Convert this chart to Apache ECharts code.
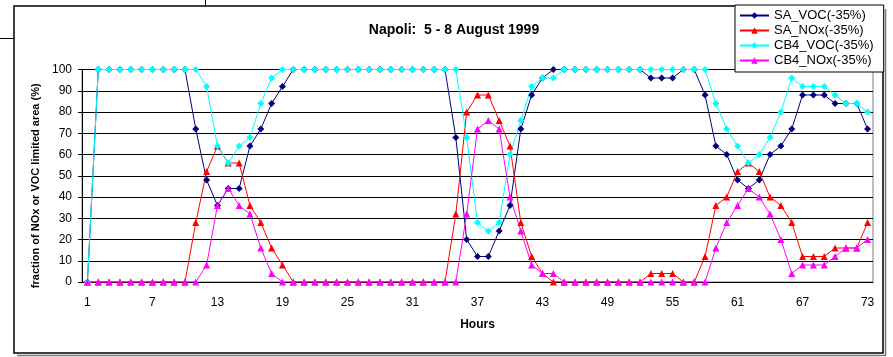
<!DOCTYPE html>
<html>
<head>
<meta charset="utf-8">
<script src="https://cdn.jsdelivr.net/npm/echarts@6/dist/echarts.min.js"></script>
<style>
html,body{margin:0;padding:0;background:#fff;}
#chart{width:893px;height:357px;}
</style>
</head>
<body>
<div id="chart"></div>
<script>
var hours = ['1','2','3','4','5','6','7','8','9','10','11','12','13','14','15','16','17','18','19','20',
  '21','22','23','24','25','26','27','28','29','30','31','32','33','34','35','36','37','38','39','40',
  '41','42','43','44','45','46','47','48','49','50','51','52','53','54','55','56','57','58','59','60',
  '61','62','63','64','65','66','67','68','69','70','71','72','73'];

var saVoc = [0,100,100,100,100,100,100,100,100,100,72,48,36,44,44,64,72,84,92,100,
  100,100,100,100,100,100,100,100,100,100,100,100,100,100,68,20,12,12,24,36,
  72,88,96,100,100,100,100,100,100,100,100,100,96,96,96,100,100,88,64,60,
  48,44,48,60,64,72,88,88,88,84,84,84,72];

var saNox = [0,0,0,0,0,0,0,0,0,0,28,52,64,56,56,36,28,16,8,0,
  0,0,0,0,0,0,0,0,0,0,0,0,0,0,32,80,88,88,76,64,
  28,12,4,0,0,0,0,0,0,0,0,0,4,4,4,0,0,12,36,40,
  52,56,52,40,36,28,12,12,12,16,16,16,28];

var cb4Voc = [0,100,100,100,100,100,100,100,100,100,100,92,64,56,64,68,84,96,100,100,
  100,100,100,100,100,100,100,100,100,100,100,100,100,100,100,68,28,24,28,60,
  76,92,96,96,100,100,100,100,100,100,100,100,100,100,100,100,100,100,84,72,
  64,56,60,68,80,96,92,92,92,88,84,84,80];

var cb4Nox = [0,0,0,0,0,0,0,0,0,0,0,8,36,44,36,32,16,4,0,0,
  0,0,0,0,0,0,0,0,0,0,0,0,0,0,0,32,72,76,72,40,
  24,8,4,4,0,0,0,0,0,0,0,0,0,0,0,0,0,0,16,28,
  36,44,40,32,20,4,8,8,8,12,16,16,20];

var yTicks = [0,10,20,30,40,50,60,70,80,90,100];

var seriesNames = ['SA_VOC(-35%)','SA_NOx(-35%)','CB4_VOC(-35%)','CB4_NOx(-35%)'];
var seriesColors = ['#000080','#FF0000','#00FFFF','#FF00FF'];
var seriesSymbols = ['diamond','triangle','diamond','triangle'];
var seriesData = [saVoc, saNox, cb4Voc, cb4Nox];

var font = 'Liberation Sans, Arial, sans-serif';
var chart = echarts.init(document.getElementById('chart'));

var series = seriesNames.map(function(n, i){
  return {
    name: n, type: 'line', data: seriesData[i],
    symbol: seriesSymbols[i], symbolSize: 7, showSymbol: true,
    lineStyle: {color: seriesColors[i], width: 1},
    itemStyle: {color: seriesColors[i]},
    emphasis: {disabled: true}
  };
});

chart.setOption({
  animation: false,
  backgroundColor: '#fff',
  title: {
    text: 'Napoli:  5 - 8 August 1999',
    left: 449, top: 18, textAlign: 'center',
    textStyle: {fontFamily: font, fontSize: 14, fontWeight: 'bold', color: '#000'}
  },
  legend: {
    data: seriesNames,
    orient: 'vertical', left: 735, top: 5,
    itemWidth: 29, itemHeight: 8, itemGap: 0,
    padding: [3, 10, 4, 4],
    borderColor: '#000', borderWidth: 1, backgroundColor: '#fff',
    textStyle: {fontFamily: font, fontSize: 13, color: '#000', lineHeight: 15}
  },
  grid: {left: 82, right: 20, top: 69.5, bottom: 75, show: true, borderColor: '#808080', borderWidth: 1},
  xAxis: {
    type: 'category', data: hours, boundaryGap: true,
    name: 'Hours', nameLocation: 'middle', nameGap: 37,
    nameTextStyle: {fontFamily: font, fontSize: 12, fontWeight: 'bold', color: '#000'},
    axisLine: {lineStyle: {color: '#000', width: 1}},
    axisTick: {interval: 0, length: 4, lineStyle: {color: '#000'}},
    axisLabel: {interval: 5, fontFamily: font, fontSize: 12, color: '#000', margin: 15},
    splitLine: {show: false}
  },
  yAxis: {
    type: 'value', min: 0, max: 100, interval: 10,
    name: 'fraction of NOx or VOC limited area (%)', nameLocation: 'middle', nameGap: 31,
    nameTextStyle: {fontFamily: font, fontSize: 11, fontWeight: 'bold', color: '#000', padding: [0, 20, 0, 0]},
    axisLine: {show: true, lineStyle: {color: '#000', width: 1}},
    axisTick: {show: true, length: 4, lineStyle: {color: '#000'}},
    axisLabel: {fontFamily: font, fontSize: 12, color: '#000', margin: 10,
      formatter: function(v){ return yTicks.indexOf(v) >= 0 ? String(v) : ''; }},
    splitLine: {show: true, lineStyle: {color: '#000', width: 1}}
  },
  graphic: [
    {type: 'rect', shape: {x: 14, y: 6, width: 869, height: 347}, style: {fill: null, stroke: '#000', lineWidth: 1.5}, z: -1},
    {type: 'line', shape: {x1: 17, y1: 355.5, x2: 885, y2: 355.5}, style: {stroke: '#777', lineWidth: 1.5}},
    {type: 'line', shape: {x1: 885.5, y1: 9, x2: 885.5, y2: 356}, style: {stroke: '#777', lineWidth: 1.5}},
    {type: 'line', shape: {x1: 0, y1: 38.5, x2: 14, y2: 38.5}, style: {stroke: '#000', lineWidth: 1}},
    {type: 'line', shape: {x1: 205.5, y1: 0, x2: 205.5, y2: 6}, style: {stroke: '#000', lineWidth: 1}}
  ],
  series: series
});
</script>
</body>
</html>
